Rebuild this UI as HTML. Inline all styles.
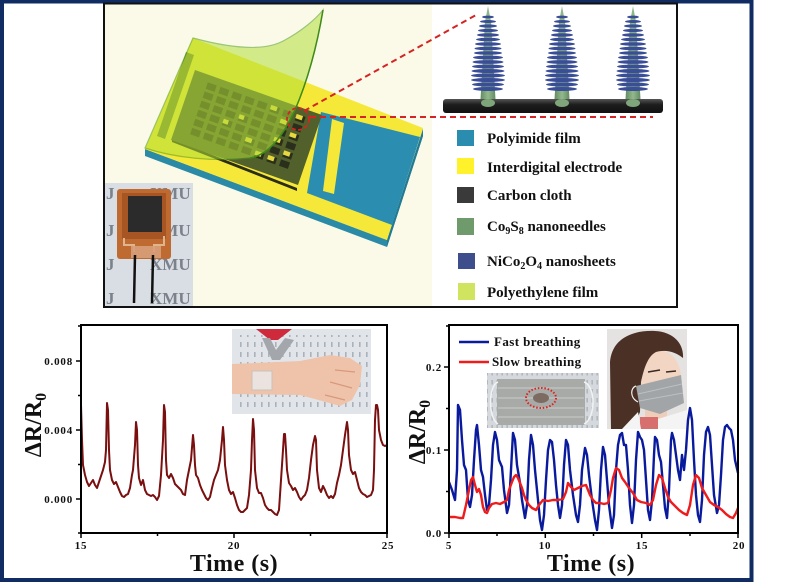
<!DOCTYPE html>
<html><head><meta charset="utf-8"><style>
html,body{margin:0;padding:0;background:#fff;}
svg{display:block;}
text{font-family:"Liberation Serif",serif;font-weight:bold;}
</style></head><body>
<svg width="796" height="583" viewBox="0 0 796 583" xmlns="http://www.w3.org/2000/svg">
<defs>
<pattern id="dash" x="0" y="0" width="7" height="10" patternUnits="userSpaceOnUse"><rect x="2" y="2" width="1.6" height="5" fill="#a9b1bb"/></pattern>
<pattern id="dash2" x="0" y="0" width="5" height="9" patternUnits="userSpaceOnUse"><rect x="1.5" y="2" width="1.3" height="4.5" fill="#8e949a"/></pattern>
<linearGradient id="bar" x1="0" y1="0" x2="0" y2="1"><stop offset="0" stop-color="#555"/><stop offset="0.4" stop-color="#1d1d1d"/><stop offset="1" stop-color="#111"/></linearGradient>
<linearGradient id="cone" x1="0" y1="0" x2="1" y2="0"><stop offset="0" stop-color="#5d8a5c"/><stop offset="0.5" stop-color="#93b88e"/><stop offset="1" stop-color="#5d8a5c"/></linearGradient>
<clipPath id="cw"><rect x="232" y="329" width="139" height="85"/></clipPath>
<clipPath id="cf"><rect x="607" y="329" width="80" height="100"/></clipPath>
<clipPath id="cm"><rect x="487" y="373" width="112" height="55"/></clipPath>
<clipPath id="ci"><rect x="105" y="183" width="88" height="123"/></clipPath>
</defs>

<!-- outer frame -->
<rect x="2" y="1.5" width="749.5" height="578.5" fill="#fff" stroke="#112b63" stroke-width="4"/>

<!-- top panel -->
<rect x="104" y="3.5" width="573" height="303.5" fill="#fff" stroke="#111" stroke-width="2"/>
<rect x="105" y="4.5" width="327" height="301.5" fill="#fbfae9"/>

<!-- device substrate -->
<polygon points="145,149 387,240 423,129 423,136 387,247 145,156" fill="#2b8aa6"/>
<polygon points="387,240 423,129 423,136 387,247" fill="#237a94"/>
<polygon points="193,38 423,128 387,240 145,149" fill="#f6e838"/>
<polygon points="321,112 420,137 392,225 307,193" fill="#2b8db0"/>
<polygon points="332,119 344,123 334,194 323,191" fill="#f6e838"/>
<!-- grid (carbon cloth) -->
<polygon points="172,139 297,188 297,191 172,142" fill="#2a2d18"/>
<g transform="matrix(127,45,-24,70,195,70)">
<rect x="0" y="0" width="1" height="1" fill="#52602c"/>
<g fill="#2a2f1c">
<rect x="0.12" y="0.1" width="0.07" height="0.09"/><rect x="0.22" y="0.1" width="0.07" height="0.09"/><rect x="0.32" y="0.1" width="0.07" height="0.09"/><rect x="0.42" y="0.1" width="0.07" height="0.09"/><rect x="0.52" y="0.1" width="0.07" height="0.09"/><rect x="0.62" y="0.1" width="0.07" height="0.09"/><rect x="0.72" y="0.1" width="0.07" height="0.09"/><rect x="0.82" y="0.1" width="0.07" height="0.09"/>
<rect x="0.12" y="0.23" width="0.07" height="0.09"/><rect x="0.22" y="0.23" width="0.07" height="0.09"/><rect x="0.32" y="0.23" width="0.07" height="0.09"/><rect x="0.42" y="0.23" width="0.07" height="0.09"/><rect x="0.52" y="0.23" width="0.07" height="0.09"/><rect x="0.62" y="0.23" width="0.07" height="0.09"/><rect x="0.72" y="0.23" width="0.07" height="0.09"/><rect x="0.82" y="0.23" width="0.07" height="0.09"/>
<rect x="0.12" y="0.36" width="0.07" height="0.09"/><rect x="0.22" y="0.36" width="0.07" height="0.09"/><rect x="0.32" y="0.36" width="0.07" height="0.09"/><rect x="0.42" y="0.36" width="0.07" height="0.09"/><rect x="0.52" y="0.36" width="0.07" height="0.09"/><rect x="0.62" y="0.36" width="0.07" height="0.09"/><rect x="0.72" y="0.36" width="0.07" height="0.09"/><rect x="0.82" y="0.36" width="0.07" height="0.09"/>
<rect x="0.12" y="0.49" width="0.07" height="0.09"/><rect x="0.22" y="0.49" width="0.07" height="0.09"/><rect x="0.32" y="0.49" width="0.07" height="0.09"/><rect x="0.42" y="0.49" width="0.07" height="0.09"/><rect x="0.52" y="0.49" width="0.07" height="0.09"/><rect x="0.62" y="0.49" width="0.07" height="0.09"/><rect x="0.72" y="0.49" width="0.07" height="0.09"/><rect x="0.82" y="0.49" width="0.07" height="0.09"/>
<rect x="0.12" y="0.62" width="0.07" height="0.09"/><rect x="0.22" y="0.62" width="0.07" height="0.09"/><rect x="0.32" y="0.62" width="0.07" height="0.09"/><rect x="0.42" y="0.62" width="0.07" height="0.09"/><rect x="0.52" y="0.62" width="0.07" height="0.09"/><rect x="0.62" y="0.62" width="0.07" height="0.09"/><rect x="0.72" y="0.62" width="0.07" height="0.09"/><rect x="0.82" y="0.62" width="0.07" height="0.09"/>
<rect x="0.12" y="0.75" width="0.07" height="0.09"/><rect x="0.22" y="0.75" width="0.07" height="0.09"/><rect x="0.32" y="0.75" width="0.07" height="0.09"/><rect x="0.42" y="0.75" width="0.07" height="0.09"/><rect x="0.52" y="0.75" width="0.07" height="0.09"/><rect x="0.62" y="0.75" width="0.07" height="0.09"/><rect x="0.72" y="0.75" width="0.07" height="0.09"/><rect x="0.82" y="0.75" width="0.07" height="0.09"/>
</g>
<g fill="#e6d83e">
<rect x="0.42" y="0.36" width="0.04" height="0.06"/><rect x="0.62" y="0.1" width="0.05" height="0.06"/><rect x="0.72" y="0.23" width="0.05" height="0.06"/><rect x="0.82" y="0.36" width="0.05" height="0.06"/><rect x="0.72" y="0.49" width="0.05" height="0.06"/><rect x="0.82" y="0.62" width="0.05" height="0.06"/><rect x="0.62" y="0.75" width="0.05" height="0.06"/><rect x="0.52" y="0.62" width="0.05" height="0.06"/><rect x="0.32" y="0.49" width="0.04" height="0.06"/><rect x="0.82" y="0.1" width="0.05" height="0.06"/><rect x="0.72" y="0.75" width="0.05" height="0.06"/>
</g>
</g>
<polygon points="186,52 194,55 165,139 157,136" fill="#4f6e22" opacity="0.75"/>
<!-- film -->
<path d="M145,148 L193,38 C230,48 265,52 285,40 C300,32 315,20 323,10 C318,40 310,75 295,110 C282,138 268,155 250,158 C215,162 175,158 145,148 Z" fill="#b2df3a" opacity="0.55" stroke="#4e9a1e" stroke-width="1.2"/>
<path d="M323,10 C318,40 310,75 295,110 C282,138 268,155 250,158" fill="none" stroke="#3f8a18" stroke-width="1.5"/>
<!-- dashed zoom -->
<ellipse cx="298" cy="119" rx="11" ry="11" fill="none" stroke="#d42424" stroke-width="1.8" stroke-dasharray="4 2.5"/>
<line x1="304" y1="111" x2="476" y2="15" stroke="#d42424" stroke-width="2" stroke-dasharray="6 4"/>
<line x1="310" y1="117" x2="653" y2="117" stroke="#d42424" stroke-width="2" stroke-dasharray="6 4"/>

<!-- nanoneedles -->
<g id="needles">
<polygon points="480,108 485,22 488,6 491,22 496,108" fill="url(#cone)"/>
<polygon points="554,108 559,22 562,6 565,22 570,108" fill="url(#cone)"/>
<polygon points="625,108 630,22 633,6 636,22 641,108" fill="url(#cone)"/>
<g fill="#3a4e98">
<ellipse cx="488" cy="17" rx="6" ry="1.4"/><ellipse cx="488" cy="21.5" rx="8" ry="1.5"/><ellipse cx="488" cy="26" rx="9" ry="1.6"/><ellipse cx="488" cy="30.5" rx="10" ry="1.6"/><ellipse cx="488" cy="35" rx="11" ry="1.7"/><ellipse cx="488" cy="39.5" rx="12" ry="1.7"/><ellipse cx="488" cy="44" rx="13" ry="1.8"/><ellipse cx="488" cy="48.5" rx="13.5" ry="1.8"/><ellipse cx="488" cy="53" rx="14" ry="1.8"/><ellipse cx="488" cy="57.5" rx="15" ry="1.9"/><ellipse cx="488" cy="62" rx="15.5" ry="1.9"/><ellipse cx="488" cy="66.5" rx="16" ry="1.9"/><ellipse cx="488" cy="71" rx="16.5" ry="2"/><ellipse cx="488" cy="75.5" rx="17" ry="2"/><ellipse cx="488" cy="80" rx="17" ry="2"/><ellipse cx="488" cy="84.5" rx="16" ry="2"/><ellipse cx="488" cy="89" rx="15" ry="2"/>
<ellipse cx="562" cy="17" rx="6" ry="1.4"/><ellipse cx="562" cy="21.5" rx="8" ry="1.5"/><ellipse cx="562" cy="26" rx="9" ry="1.6"/><ellipse cx="562" cy="30.5" rx="10" ry="1.6"/><ellipse cx="562" cy="35" rx="11" ry="1.7"/><ellipse cx="562" cy="39.5" rx="12" ry="1.7"/><ellipse cx="562" cy="44" rx="13" ry="1.8"/><ellipse cx="562" cy="48.5" rx="13.5" ry="1.8"/><ellipse cx="562" cy="53" rx="14" ry="1.8"/><ellipse cx="562" cy="57.5" rx="15" ry="1.9"/><ellipse cx="562" cy="62" rx="15.5" ry="1.9"/><ellipse cx="562" cy="66.5" rx="16" ry="1.9"/><ellipse cx="562" cy="71" rx="16.5" ry="2"/><ellipse cx="562" cy="75.5" rx="17" ry="2"/><ellipse cx="562" cy="80" rx="17" ry="2"/><ellipse cx="562" cy="84.5" rx="16" ry="2"/><ellipse cx="562" cy="89" rx="15" ry="2"/>
<ellipse cx="633" cy="17" rx="6" ry="1.4"/><ellipse cx="633" cy="21.5" rx="8" ry="1.5"/><ellipse cx="633" cy="26" rx="9" ry="1.6"/><ellipse cx="633" cy="30.5" rx="10" ry="1.6"/><ellipse cx="633" cy="35" rx="11" ry="1.7"/><ellipse cx="633" cy="39.5" rx="12" ry="1.7"/><ellipse cx="633" cy="44" rx="13" ry="1.8"/><ellipse cx="633" cy="48.5" rx="13.5" ry="1.8"/><ellipse cx="633" cy="53" rx="14" ry="1.8"/><ellipse cx="633" cy="57.5" rx="15" ry="1.9"/><ellipse cx="633" cy="62" rx="15.5" ry="1.9"/><ellipse cx="633" cy="66.5" rx="16" ry="1.9"/><ellipse cx="633" cy="71" rx="16.5" ry="2"/><ellipse cx="633" cy="75.5" rx="17" ry="2"/><ellipse cx="633" cy="80" rx="17" ry="2"/><ellipse cx="633" cy="84.5" rx="16" ry="2"/><ellipse cx="633" cy="89" rx="15" ry="2"/>
</g>
<rect x="443" y="99" width="220" height="14" rx="3" fill="url(#bar)"/>
<ellipse cx="488" cy="103" rx="7" ry="4" fill="#7fa57a"/><ellipse cx="562" cy="103" rx="7" ry="4" fill="#7fa57a"/><ellipse cx="633" cy="103" rx="7" ry="4" fill="#7fa57a"/>
</g>

<!-- top legend -->
<rect x="457" y="130" width="17" height="16" fill="#2a8db0"/>
<rect x="457" y="158" width="17" height="16" fill="#fff22a"/>
<rect x="457" y="187" width="17" height="16" fill="#3a3a3a"/>
<rect x="457" y="218" width="17" height="17" fill="#6e9a6c"/>
<rect x="458" y="253" width="17" height="16" fill="#3e4d8c"/>
<rect x="458" y="283" width="17" height="17" fill="#d0e460"/>
<g font-size="15" fill="#111">
<text x="487" y="143">Polyimide film</text>
<text x="487" y="172">Interdigital electrode</text>
<text x="487" y="200">Carbon cloth</text>
<text x="487" y="231">Co<tspan font-size="10" dy="3">9</tspan><tspan dy="-3">S</tspan><tspan font-size="10" dy="3">8</tspan><tspan dy="-3"> nanoneedles</tspan></text>
<text x="487" y="266">NiCo<tspan font-size="10" dy="3">2</tspan><tspan dy="-3">O</tspan><tspan font-size="10" dy="3">4</tspan><tspan dy="-3"> nanosheets</tspan></text>
<text x="487" y="297">Polyethylene film</text>
</g>

<!-- inset photo in top panel -->
<g clip-path="url(#ci)">
<rect x="105" y="183" width="88" height="123" fill="#d9dee4"/>
<g font-family="Liberation Serif" font-size="17" fill="#7c828c">
<text x="106" y="199" font-weight="normal">J</text><text x="150" y="199" font-weight="normal">XMU</text>
<text x="106" y="236" font-weight="normal">J</text><text x="150" y="236" font-weight="normal">XMU</text>
<text x="106" y="270" font-weight="normal">J</text><text x="150" y="270" font-weight="normal">XMU</text>
<text x="106" y="304" font-weight="normal">J</text><text x="150" y="304" font-weight="normal">XMU</text>
</g>
<rect x="117" y="189" width="54" height="70" rx="3" fill="#bf6a30"/>
<rect x="122" y="193" width="44" height="46" fill="#a85524"/>
<rect x="128" y="196" width="34" height="36" fill="#2b2b2b"/>
<polyline points="124,238 124,245 134,245 134,252" fill="none" stroke="#e0b58e" stroke-width="2"/>
<polyline points="164,236 164,245 154,245 154,252" fill="none" stroke="#e0b58e" stroke-width="2"/>
<rect x="131" y="246" width="30" height="12" fill="#d8a07a" opacity="0.9"/>
<line x1="135" y1="255" x2="134" y2="303" stroke="#111" stroke-width="2.5"/>
<line x1="153" y1="255" x2="152" y2="303" stroke="#111" stroke-width="2.5"/>
</g>

<!-- LEFT CHART -->
<g clip-path="url(#cw)">
<rect x="232" y="329" width="139" height="85" fill="#e1e5ea"/>
<rect x="240" y="335" width="128" height="76" fill="url(#dash)"/>
<path d="M232,364 L300,361 L330,355 L350,358 L362,366 L360,385 L352,400 L340,406 L322,401 L300,395 L232,394 Z" fill="#efc3aa"/>
<path d="M335,370 L355,372 M330,382 L352,388 M325,395 L345,400" stroke="#d9987c" stroke-width="1.2" fill="none"/>
<path d="M256,329 L270,340 L278,340 L292,329 Z" fill="#cf2a3c"/>
<path d="M262,338 L272,360 L280,360 L294,340 L285,338 L276,350 L270,338 Z" fill="#a3a7ab"/>
<rect x="252" y="371" width="20" height="19" fill="#ebe3df" stroke="#c9c0bb" stroke-width="1"/>
</g>
<polyline fill="none" stroke="#7a0f0f" stroke-width="2" stroke-linejoin="round" points="81,405 82,440 83,465 85,475 87,482 89,486 91,483 93,480 95,485 97,488 99,482 101,476 103,470 105,462 106,450 107,403 108,410 109,450 110,470 112,480 114,484 116,482 118,487 120,492 122,496 124,497 126,495 128,494 130,488 132,475 133,470 135,445 136,422 137,430 138,465 139,478 141,485 143,480 145,490 147,494 149,495 151,496 153,495 155,497 157,500 159,496 161,475 163,440 164,405 165,412 166,460 167,475 169,478 171,474 173,478 175,484 177,486 179,488 181,490 183,494 185,495 187,480 189,470 191,460 193,435 194,445 195,465 196,475 198,478 200,485 202,490 204,494 206,498 208,500 210,497 212,488 214,480 216,475 218,470 220,460 222,440 223,427 224,440 225,465 227,480 229,490 231,494 233,492 235,498 237,505 239,510 241,512 243,512 245,510 247,508 249,495 251,470 252,440 253,419 254,430 255,470 257,488 259,493 261,493 263,498 265,505 267,508 269,510 271,510 273,512 275,514 277,515 279,510 281,480 283,450 284,434 285,434 286,450 287,470 289,483 291,486 293,490 295,488 297,492 299,497 301,500 303,497 305,495 307,490 309,478 311,460 313,445 315,436 316,440 317,470 319,488 321,492 323,486 325,490 327,495 329,498 331,496 333,498 335,494 337,483 339,475 341,465 343,450 345,435 347,422 348,430 349,455 351,470 353,474 355,472 357,480 359,488 361,492 363,494 365,495 367,497 369,496 371,495 373,490 374,470 375,420 376,405 377,405 378,410 379,430 381,440 383,445 385,446 387,445"/>
<rect x="81" y="325" width="306" height="208" fill="none" stroke="#000" stroke-width="2"/>
<g stroke="#000" stroke-width="1.5">
<line x1="76" y1="361" x2="81" y2="361"/><line x1="76" y1="430" x2="81" y2="430"/><line x1="76" y1="499" x2="81" y2="499"/>
<line x1="78" y1="326" x2="81" y2="326"/><line x1="78" y1="395.5" x2="81" y2="395.5"/><line x1="78" y1="464.5" x2="81" y2="464.5"/><line x1="78" y1="533" x2="81" y2="533"/>
<line x1="81" y1="533" x2="81" y2="538"/><line x1="234" y1="533" x2="234" y2="538"/><line x1="387" y1="533" x2="387" y2="538"/>
<line x1="157.5" y1="533" x2="157.5" y2="536"/><line x1="310.5" y1="533" x2="310.5" y2="536"/>
</g>
<g font-size="11" fill="#111" letter-spacing="0.8">
<text x="73" y="365" text-anchor="end">0.008</text>
<text x="73" y="434" text-anchor="end">0.004</text>
<text x="73" y="503" text-anchor="end">0.000</text>
<text x="81" y="549" text-anchor="middle">15</text>
<text x="234" y="549" text-anchor="middle">20</text>
<text x="388" y="549" text-anchor="middle">25</text>
</g>
<text x="234" y="571" text-anchor="middle" font-size="24" fill="#111" letter-spacing="0.5">Time (s)</text>
<text transform="translate(41,425) rotate(-90)" text-anchor="middle" font-size="24" fill="#111">ΔR/R<tspan font-size="16" dy="5">0</tspan></text>

<!-- RIGHT CHART -->
<g clip-path="url(#cm)">
<rect x="487" y="373" width="112" height="55" fill="#d5d9dd"/>
<rect x="487" y="373" width="112" height="55" fill="url(#dash2)" opacity="0.6"/>
<rect x="497" y="379" width="88" height="46" fill="#a7aaa6"/>
<g stroke="#c3c5c2" stroke-width="1.2"><line x1="498" y1="388" x2="584" y2="388"/><line x1="498" y1="398" x2="584" y2="398"/><line x1="498" y1="408" x2="584" y2="408"/><line x1="498" y1="417" x2="584" y2="417"/></g>
<path d="M498,382 C488,386 488,418 498,424 M584,382 C596,386 596,418 584,424" fill="none" stroke="#f2f2f2" stroke-width="1.5"/>
<ellipse cx="541" cy="398" rx="8" ry="5" fill="#7d6b62"/>
<ellipse cx="541" cy="398" rx="15" ry="10" fill="none" stroke="#e02020" stroke-width="2" stroke-dasharray="1.5 1.8"/>
</g>
<g clip-path="url(#cf)">
<rect x="607" y="329" width="80" height="100" fill="#e4e3e1"/>
<rect x="645" y="400" width="22" height="29" fill="#efcdbb"/>
<ellipse cx="661" cy="378" rx="20" ry="27" fill="#f2d5c3"/>
<path d="M611,429 L610,362 C612,338 633,330 655,331 C674,332 684,344 683,358 C676,352 666,349 656,352 C648,356 644,368 641,382 L640,412 L633,429 Z" fill="#4b3025"/>
<path d="M648,372 L660,370 M666,372 L676,371" stroke="#3a2a22" stroke-width="1.5"/>
<path d="M636,386 L681,375 L684,403 L660,414 L640,408 Z" fill="#a1a5a7"/>
<path d="M638,394 L682,384 M639,401 L683,393" stroke="#bdc0c2" stroke-width="1"/>
<path d="M636,386 C630,388 630,398 638,402" fill="none" stroke="#f2f2f2" stroke-width="1.2"/>
<rect x="640" y="417" width="18" height="12" fill="#d86f6f"/>
<path d="M622,429 L638,412 L641,429 Z M658,419 L687,410 L687,429 L658,429 Z" fill="#f4f4f4"/>
</g>
<line x1="459" y1="342" x2="489" y2="342" stroke="#0a1a9c" stroke-width="2.5"/>
<line x1="459" y1="362" x2="489" y2="362" stroke="#ee1c1c" stroke-width="2.5"/>
<text x="494" y="346" font-size="13" fill="#111" letter-spacing="0.4">Fast breathing</text>
<text x="492" y="366" font-size="13" fill="#111" letter-spacing="0.4">Slow breathing</text>
<polyline fill="none" stroke="#0a1a9c" stroke-width="2.4" stroke-linejoin="round" points="449,482 452,490 455,500 457,470 458,405 460,410 462,440 464,465 466,470 468,500 470,507 472,495 474,460 476,430 477,425 479,445 481,470 483,477 485,495 487,510 489,505 491,480 493,445 495,432 497,440 499,460 502,467 504,490 507,513 509,505 511,470 513,433 515,440 517,465 520,483 522,500 525,518 527,505 529,460 531,435 533,445 535,470 538,500 540,520 542,530 544,515 546,480 548,450 550,440 552,442 554,460 556,485 558,505 560,518 562,505 564,465 566,440 568,445 570,470 573,495 576,515 578,522 580,505 582,470 585,448 587,455 589,475 592,500 595,520 597,530 599,510 601,470 603,447 605,455 607,480 609,505 612,528 614,515 616,470 618,445 620,435 622,433 624,445 626,445 628,470 630,505 632,523 634,505 636,460 638,432 640,437 642,440 644,450 646,480 648,510 650,520 652,500 654,455 655,437 657,440 659,455 661,462 663,485 665,508 667,518 669,490 671,440 672,433 674,440 676,455 678,470 680,480 682,455 684,470 686,450 688,420 690,408 692,420 694,460 696,495 698,515 700,522 702,500 704,455 706,432 708,427 710,435 712,465 714,495 717,513 719,505 721,475 723,440 725,427 727,425 729,428 731,430 733,440 735,460 738,473"/>
<polyline fill="none" stroke="#ee1c1c" stroke-width="2.4" stroke-linejoin="round" points="449,517 455,517 460,518 463,518 466,505 469,490 471,480 473,477 475,485 477,492 479,489 481,495 483,507 485,512 487,513 489,508 492,504 496,503 500,504 504,502 507,500 509,490 512,482 514,477 516,475 518,478 520,483 522,488 524,495 526,500 529,505 532,508 536,510 539,505 543,500 548,501 553,500 558,500 563,499 566,492 568,483 571,487 574,490 578,488 582,486 586,485 590,495 593,500 596,503 600,503 604,504 608,503 611,490 613,478 616,468 619,470 622,478 625,482 629,488 633,493 637,500 641,502 646,503 650,505 653,500 656,485 659,475 662,478 665,488 668,497 671,502 675,506 679,510 683,513 687,515 690,505 693,485 696,475 699,478 702,488 706,495 710,502 714,505 718,507 722,510 726,514 730,517 733,518 736,513 738,508"/>
<rect x="449" y="325" width="289" height="208" fill="none" stroke="#000" stroke-width="2"/>
<g stroke="#000" stroke-width="1.5">
<line x1="444" y1="367" x2="449" y2="367"/><line x1="444" y1="450" x2="449" y2="450"/><line x1="444" y1="533" x2="449" y2="533"/>
<line x1="446" y1="326" x2="449" y2="326"/><line x1="446" y1="408.5" x2="449" y2="408.5"/><line x1="446" y1="491.5" x2="449" y2="491.5"/>
<line x1="449" y1="533" x2="449" y2="538"/><line x1="545.3" y1="533" x2="545.3" y2="538"/><line x1="641.7" y1="533" x2="641.7" y2="538"/><line x1="738" y1="533" x2="738" y2="538"/>
<line x1="497" y1="533" x2="497" y2="536"/><line x1="593.5" y1="533" x2="593.5" y2="536"/><line x1="690" y1="533" x2="690" y2="536"/>
</g>
<g font-size="11" fill="#111" letter-spacing="0.8">
<text x="442" y="371" text-anchor="end">0.2</text>
<text x="442" y="454" text-anchor="end">0.1</text>
<text x="442" y="537" text-anchor="end">0.0</text>
<text x="449" y="549" text-anchor="middle">5</text>
<text x="545" y="549" text-anchor="middle">10</text>
<text x="642" y="549" text-anchor="middle">15</text>
<text x="739" y="549" text-anchor="middle">20</text>
</g>
<text x="591" y="571" text-anchor="middle" font-size="24" fill="#111" letter-spacing="0.5">Time (s)</text>
<text transform="translate(425,432) rotate(-90)" text-anchor="middle" font-size="24" fill="#111">ΔR/R<tspan font-size="16" dy="5">0</tspan></text>
</svg>
</body></html>
